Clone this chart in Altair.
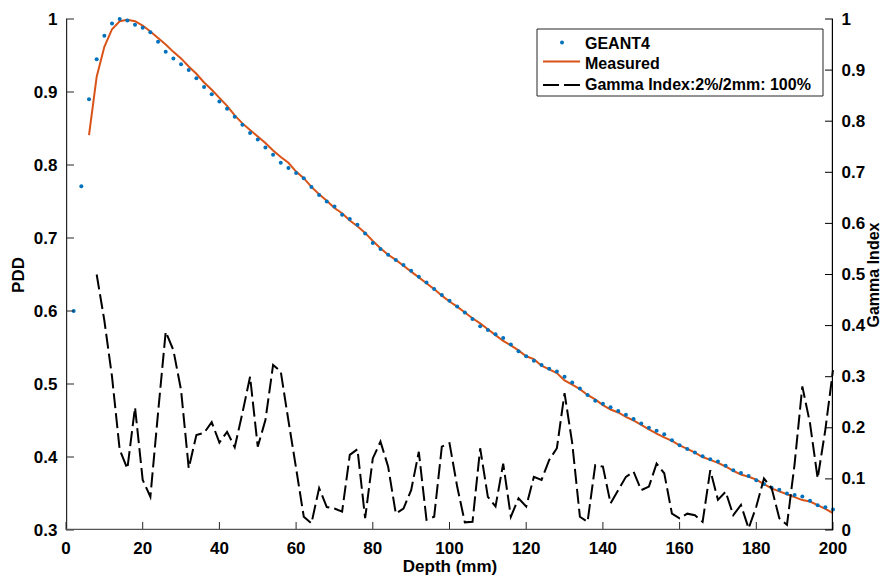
import altair as alt
import pandas as pd

# ---------------- data ----------------
depth_geant4 = list(range(2, 201, 2))
geant4 = [0.600, 0.771, 0.890, 0.945, 0.977, 0.994, 1.000, 0.998, 0.992, 0.988,
          0.982, 0.969, 0.955, 0.946, 0.938, 0.930, 0.919, 0.907, 0.897, 0.887,
          0.877, 0.866, 0.855, 0.844, 0.835, 0.824, 0.814, 0.803, 0.796, 0.789,
          0.782, 0.770, 0.759, 0.750, 0.743, 0.732, 0.726, 0.718, 0.706, 0.693,
          0.685, 0.677, 0.670, 0.663, 0.655, 0.647, 0.639, 0.630, 0.622, 0.614,
          0.606, 0.598, 0.589, 0.579, 0.574, 0.568, 0.563, 0.554, 0.545, 0.538,
          0.532, 0.526, 0.521, 0.517, 0.510, 0.502, 0.494, 0.485, 0.477, 0.473,
          0.468, 0.463, 0.458, 0.452, 0.446, 0.440, 0.436, 0.431, 0.423, 0.416,
          0.411, 0.406, 0.401, 0.397, 0.394, 0.388, 0.382, 0.378, 0.374, 0.368,
          0.363, 0.358, 0.355, 0.350, 0.348, 0.346, 0.340, 0.334, 0.331, 0.328]

depth_measured = list(range(6, 201, 2))
measured = [0.841, 0.921, 0.962, 0.986, 0.997, 0.999, 0.997, 0.991, 0.983, 0.974,
            0.965, 0.955, 0.946, 0.935, 0.925, 0.913, 0.903, 0.892, 0.881, 0.868,
            0.857, 0.848, 0.839, 0.830, 0.820, 0.811, 0.803, 0.791, 0.782, 0.770,
            0.760, 0.751, 0.741, 0.734, 0.724, 0.716, 0.707, 0.696, 0.686, 0.677,
            0.670, 0.662, 0.654, 0.646, 0.638, 0.630, 0.621, 0.613, 0.606, 0.598,
            0.590, 0.583, 0.575, 0.567, 0.559, 0.553, 0.546, 0.538, 0.534, 0.525,
            0.520, 0.515, 0.505, 0.499, 0.493, 0.485, 0.479, 0.471, 0.465, 0.461,
            0.455, 0.450, 0.444, 0.438, 0.432, 0.427, 0.422, 0.416, 0.411, 0.406,
            0.400, 0.396, 0.392, 0.387, 0.381, 0.376, 0.373, 0.369, 0.363, 0.357,
            0.353, 0.349, 0.345, 0.341, 0.339, 0.334, 0.329, 0.323]

depth_gamma = list(range(8, 201, 2))
gamma = [0.500, 0.410, 0.300, 0.157, 0.120, 0.240, 0.098, 0.065, 0.229, 0.388,
         0.352, 0.274, 0.121, 0.186, 0.190, 0.211, 0.171, 0.192, 0.162, 0.229,
         0.300, 0.163, 0.215, 0.323, 0.310, 0.214, 0.121, 0.026, 0.013, 0.082,
         0.045, 0.042, 0.036, 0.147, 0.158, 0.023, 0.140, 0.173, 0.124, 0.032,
         0.042, 0.078, 0.153, 0.020, 0.026, 0.163, 0.170, 0.085, 0.015, 0.016,
         0.160, 0.065, 0.046, 0.130, 0.026, 0.062, 0.046, 0.104, 0.098, 0.137,
         0.160, 0.268, 0.170, 0.026, 0.016, 0.127, 0.124, 0.052, 0.078, 0.104,
         0.114, 0.078, 0.085, 0.130, 0.111, 0.032, 0.023, 0.032, 0.029, 0.016,
         0.117, 0.059, 0.075, 0.029, 0.049, 0.003, 0.046, 0.101, 0.082, 0.023,
         0.010, 0.130, 0.281, 0.209, 0.101, 0.196, 0.313]

x_ticks = list(range(0, 201, 20))
pdd_ticks = [0.3, 0.4, 0.5, 0.6, 0.7, 0.8, 0.9, 1.0]
gamma_ticks = [0.0, 0.1, 0.2, 0.3, 0.4, 0.5, 0.6, 0.7, 0.8, 0.9, 1.0]
legend_labels = ["GEANT4", "Measured", "Gamma Index:2%/2mm: 100%"]

# ---------------- style ----------------
W, H = 767, 511
FONT = "Liberation Sans"
BLUE = "#0072BD"
ORANGE = "#D95319"
AXCOL = "#262626"
TICK = 8

df_g = pd.DataFrame({"depth": depth_geant4, "pdd": geant4})
df_m = pd.DataFrame({"depth": depth_measured, "pdd": measured})
df_gam = pd.DataFrame({"depth": depth_gamma, "gamma": gamma})
df_xt = pd.DataFrame({"depth": x_ticks, "lab": [str(v) for v in x_ticks]})
df_lt = pd.DataFrame({"pdd": pdd_ticks})
df_rt = pd.DataFrame({"gamma": gamma_ticks})
df_one = pd.DataFrame({"k": [0]})

xscale = alt.Scale(domain=[0, 200], nice=False, zero=False)
lscale = alt.Scale(domain=[0.3, 1.0], nice=False, zero=False)
rscale = alt.Scale(domain=[0.0, 1.0], nice=False, zero=False)

x_axis = alt.Axis(values=x_ticks, title="Depth (mm)", grid=False, tickSize=0,
                  labels=False, domain=False, titlePadding=28, titleFontSize=17)
l_axis = alt.Axis(values=pdd_ticks, title="PDD", grid=False, tickSize=0, domain=False,
                  labelExpr="format(datum.value, '.1~f')",
                  labelPadding=9, titlePadding=6,
                  labelFontSize=17, titleFontSize=17)
r_axis = alt.Axis(values=gamma_ticks, title="Gamma Index", orient="right", grid=False,
                  tickSize=0, domain=False, labelExpr="format(datum.value, '.1~f')",
                  labelPadding=8, titlePadding=1, titleAngle=270, titleBaseline="top",
                  labelFontSize=17, titleFontSize=16)

X = alt.X("depth:Q", scale=xscale, axis=x_axis)
YL = alt.Y("pdd:Q", scale=lscale, axis=l_axis)
YR = alt.Y("gamma:Q", scale=rscale, axis=r_axis)

meas = alt.Chart(df_m).mark_line(color=ORANGE, strokeWidth=2).encode(x=X, y=YL)
dots = alt.Chart(df_g).mark_circle(size=16, color=BLUE, opacity=1).encode(x=X, y=YL)
xt = alt.Chart(df_xt).mark_rule(color=AXCOL, strokeWidth=1).encode(
    x=X, y=alt.value(H), y2=alt.value(H - TICK))
xlab = alt.Chart(df_xt).mark_text(font=FONT, fontWeight="bold", fontSize=17,
                                  color="black", align="center",
                                  baseline="alphabetic").encode(
    x=X, y=alt.value(H + 24), text="lab:N")
lt = alt.Chart(df_lt).mark_rule(color=AXCOL, strokeWidth=1).encode(
    y=YL, x=alt.value(0), x2=alt.value(TICK))
# axis lines drawn as thin filled bars just inside the plot area
spine_l = alt.Chart(df_one).mark_rect(color=AXCOL, opacity=1).encode(
    x=alt.value(0), x2=alt.value(1.2), y=alt.value(0), y2=alt.value(H))
spine_b = alt.Chart(df_one).mark_rect(color="#555555", opacity=1).encode(
    x=alt.value(0), x2=alt.value(W), y=alt.value(H - 1.2), y2=alt.value(H))
left = alt.layer(meas, dots, xt, xlab, lt, spine_l, spine_b)

gam = alt.Chart(df_gam).mark_line(color="black", strokeWidth=2, strokeDash=[15, 5]).encode(x=X, y=YR)
rt = alt.Chart(df_rt).mark_rule(color="black", strokeWidth=1).encode(
    y=YR, x=alt.value(W - TICK), x2=alt.value(W))
spine_r = alt.Chart(df_one).mark_rect(color="black", opacity=1).encode(
    x=alt.value(W - 1.2), x2=alt.value(W), y=alt.value(0), y2=alt.value(H))

# ---------------- legend (drawn) ----------------
LX0, LX1, LY0, LY1 = 471, 757, 10, 77
box = alt.Chart(df_one).mark_rect(fill="white", stroke=AXCOL, strokeWidth=1).encode(
    x=alt.value(LX0), x2=alt.value(LX1), y=alt.value(LY0), y2=alt.value(LY1))
leg_dot = alt.Chart(df_one).mark_circle(size=16, color=BLUE, opacity=1).encode(
    x=alt.value(496), y=alt.value(23.5))
leg_line = alt.Chart(df_one).mark_rule(color=ORANGE, strokeWidth=2).encode(
    x=alt.value(477), x2=alt.value(514), y=alt.value(42.5))
leg_dash = alt.Chart(df_one).mark_rule(color="black", strokeWidth=2, strokeDash=[16, 5]).encode(
    x=alt.value(477), x2=alt.value(514), y=alt.value(66))
texts = []
for lab, yy in zip(legend_labels, [24.5, 44.5, 66]):
    texts.append(
        alt.Chart(df_one).mark_text(align="left", baseline="middle", font=FONT,
                                    fontWeight="bold", fontSize=16, color="black",
                                    text=lab).encode(x=alt.value(519), y=alt.value(yy))
    )
right = alt.layer(gam, rt, spine_r, box, leg_dot, leg_line, leg_dash, *texts)

chart = alt.layer(left, right).resolve_scale(y="independent").properties(
    width=W, height=H,
    autosize=alt.AutoSizeParams(type="none"),
    padding={"left": 58, "top": 11, "right": 50, "bottom": 45},
).configure_axis(
    labelFont=FONT, titleFont=FONT, labelFontWeight="bold", titleFontWeight="bold",
    labelColor="black", titleColor="black",
).configure_view(stroke=None)

chart.save("out.html", embed_options={"renderer": "svg", "actions": False})
